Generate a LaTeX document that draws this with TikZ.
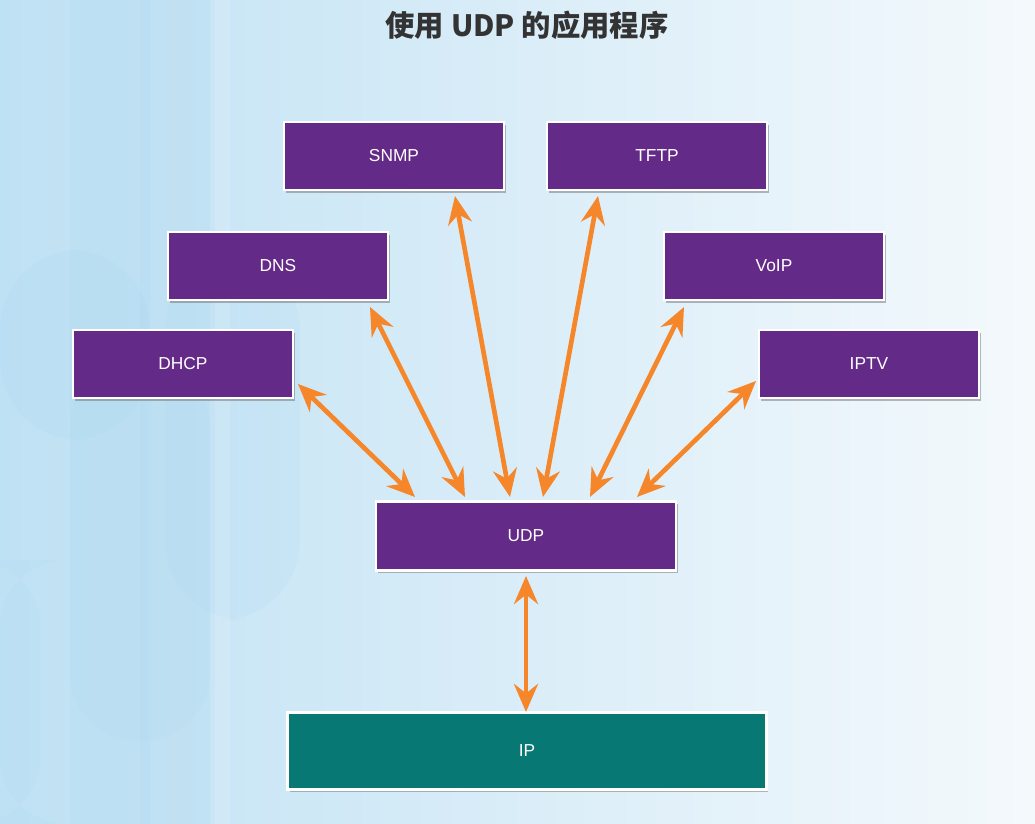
\documentclass[tikz,border=0pt]{standalone}
\usepackage{fontspec}
\setmainfont{Liberation Sans}
\newfontfamily\cjkfont{Noto Sans CJK SC}
\usetikzlibrary{arrows.meta,shadows}
\definecolor{bgleft}{HTML}{BFE1F4}
\definecolor{bgright}{HTML}{F4F9FC}
\definecolor{stripe}{HTML}{A9D6F0}
\definecolor{purplebox}{HTML}{642A87}
\definecolor{tealbox}{HTML}{077873}
\definecolor{arrowor}{HTML}{F5862A}
\definecolor{titlegray}{HTML}{333333}
\tikzset{
  x=0.75pt, y=-0.75pt,
  appbox/.style={draw=white, line width=2pt, fill=purplebox, text=white,
    minimum width=165pt, minimum height=51pt, inner sep=0pt,
    font=\fontsize{13}{15}\selectfont,
    drop shadow={shadow xshift=1.5pt, shadow yshift=-2pt, opacity=0.45, fill=black!60}},
  udpbox/.style={appbox, minimum width=225pt, minimum height=52pt},
  ipbox/.style={appbox, fill=tealbox, minimum width=359pt, minimum height=58pt},
  link/.style={draw=arrowor, line width=3.5pt,
    {Stealth[length=21pt,width=18pt,inset=7pt]}-{Stealth[length=21pt,width=18pt,inset=7pt]}},
}
\begin{document}
\begin{tikzpicture}
\useasboundingbox (0,0) rectangle (1035,824);
\shade[left color=bgleft, right color=bgright] (0,0) rectangle (1035,824);
% faint background decoration
\fill[stripe, opacity=0.22] (70,0) rectangle (210,824);
\fill[stripe, opacity=0.15] (140,0) rectangle (150,824);
\fill[white, opacity=0.15] (215,0) rectangle (230,824);
\fill[stripe, opacity=0.2, rounded corners=60pt] (0,250) rectangle (150,440);
\fill[stripe, opacity=0.15, rounded corners=60pt] (165,250) rectangle (300,620);
\fill[stripe, opacity=0.12, rounded corners=50pt] (70,360) rectangle (210,740);
\fill[stripe, opacity=0.15, rounded corners=50pt] (0,560) rectangle (40,824);
% title
\node[font=\cjkfont\bfseries\fontsize{22}{26}\selectfont, text=titlegray] (title) at (527,25) {使用 UDP 的应用程序};
% boxes
\node[appbox] (snmp) at (394,156) {SNMP};
\node[appbox] (tftp) at (657,156) {TFTP};
\node[appbox] (dns)  at (278,266) {DNS};
\node[appbox] (voip) at (774,266) {VoIP};
\node[appbox] (dhcp) at (183,364) {DHCP};
\node[appbox] (iptv) at (869,364) {IPTV};
\node[udpbox] (udp)  at (526,536) {UDP};
\node[ipbox]  (ip)   at (527,751) {IP};
% connector ends
\coordinate (dhcpE) at (298,384);
\coordinate (dnsE)  at (370,307);
\coordinate (snmpE) at (455,196);
\coordinate (tftpE) at (598,196);
\coordinate (voipE) at (684,307);
\coordinate (iptvE) at (756,381);
\coordinate (udpA) at (415,497);
\coordinate (udpB) at (465,497);
\coordinate (udpC) at (510,497);
\coordinate (udpD) at (543,497);
\coordinate (udpE) at (590,497);
\coordinate (udpF) at (637,497);
\coordinate (udpS) at (526,576);
\coordinate (ipN)  at (526,712);
\draw[link] (dhcpE) -- (udpA);
\draw[link] (dnsE) -- (udpB);
\draw[link] (snmpE) -- (udpC);
\draw[link] (tftpE) -- (udpD);
\draw[link] (voipE) -- (udpE);
\draw[link] (iptvE) -- (udpF);
\draw[link] (udpS) -- (ipN);
\end{tikzpicture}
\end{document}
